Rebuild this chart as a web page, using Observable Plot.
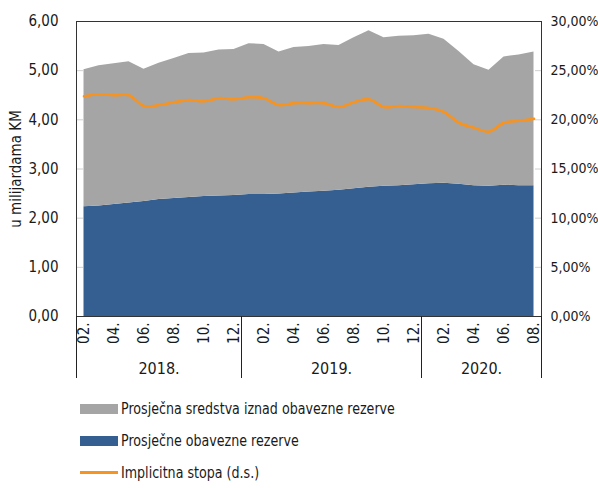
<!DOCTYPE html>
<html>
<head>
<meta charset="utf-8">
<script src="https://cdn.jsdelivr.net/npm/d3@7"></script>
<script src="https://cdn.jsdelivr.net/npm/@observablehq/plot@0.6"></script>
<style>
  body { margin: 0; background: #fff; color: #1a1a1a; }
  #wrap { position: relative; width: 598px; height: 488px; }
  #chart { position: absolute; left: 0; top: 0; }
  .leg { position: absolute; left: 80px; display: flex; align-items: center; white-space: nowrap; font-size: 16px; }
  .leg span { display: inline-block; transform: scaleX(0.88); transform-origin: left center; }
  .sw { width: 38px; height: 10px; margin-right: 3px; }
  .ln { width: 38px; height: 2.5px; margin-right: 3px; }
</style>
</head>
<body>
<div id="wrap">
  <div id="chart"></div>
  <div class="leg" style="top:399px"><div class="sw" style="background:#a5a5a5"></div><span>Prosječna sredstva iznad obavezne rezerve</span></div>
  <div class="leg" style="top:431px"><div class="sw" style="background:#365f91"></div><span>Prosječne obavezne rezerve</span></div>
  <div class="leg" style="top:463px"><div class="ln" style="background:#f7931e"></div><span>Implicitna stopa (d.s.)</span></div>
</div>
<script>
const periods = [
  "2018-02","2018-03","2018-04","2018-05","2018-06","2018-07","2018-08","2018-09","2018-10","2018-11","2018-12",
  "2019-01","2019-02","2019-03","2019-04","2019-05","2019-06","2019-07","2019-08","2019-09","2019-10","2019-11","2019-12",
  "2020-01","2020-02","2020-03","2020-04","2020-05","2020-06","2020-07","2020-08"
];
// Prosječne obavezne rezerve (mlrd KM)
const required = [2.23,2.25,2.28,2.31,2.34,2.38,2.40,2.42,2.44,2.45,2.46,
  2.48,2.48,2.49,2.51,2.53,2.55,2.57,2.60,2.63,2.65,2.66,2.68,
  2.70,2.71,2.69,2.66,2.65,2.67,2.66,2.66];
// Prosječna sredstva iznad obavezne rezerve (mlrd KM)
const excess = [2.79,2.85,2.86,2.87,2.69,2.77,2.85,2.93,2.92,2.97,2.97,
  3.07,3.05,2.89,2.96,2.96,2.98,2.94,3.07,3.18,3.02,3.04,3.03,
  3.04,2.93,2.70,2.46,2.36,2.61,2.66,2.72];
// Implicitna stopa (%), desna skala
const rate = [22.4,22.6,22.5,22.5,21.4,21.5,21.8,22.0,21.9,22.2,22.1,
  22.3,22.2,21.5,21.7,21.7,21.7,21.3,21.8,22.1,21.3,21.4,21.3,
  21.2,20.8,19.7,19.2,18.8,19.7,19.9,20.1];
const years = ["2018.","2019.","2020."];
const leftTicks = [0,1,2,3,4,5,6];
const rightFactor = 5; // 6,00 on left = 30,00% on right

// pick a narrow installed font
function pickFont() {
  const c = document.createElement("canvas").getContext("2d");
  const s = "Prosječna sredstva iznad obavezne rezerve 0123456789";
  const cands = ["Liberation Sans Narrow", "DejaVu Sans Condensed", "Roboto Condensed", "Open Sans Condensed", "Noto Sans Condensed"];
  for (const f of cands) {
    let ok = true;
    for (const fb of ["monospace", "serif"]) {
      c.font = `16px ${fb}`; const w0 = c.measureText(s).width;
      c.font = `16px "${f}", ${fb}`; const w1 = c.measureText(s).width;
      if (Math.abs(w0 - w1) < 0.5) ok = false;
    }
    if (ok) return `"${f}"`;
  }
  return '"Liberation Sans"';
}
const FONT = pickFont() + ", sans-serif";
document.body.style.fontFamily = FONT;

const idx = periods.map((_, i) => i);
const areaData = [];
idx.forEach(i => areaData.push({i, s: "req", v: required[i]}));
idx.forEach(i => areaData.push({i, s: "exc", v: excess[i]}));
const lineData = idx.map(i => ({i, y: rate[i] / rightFactor}));

const yearIdx = years.map(y => idx.filter(i => periods[i].startsWith(y.slice(0,4))));
const yearCenters = yearIdx.map(a => (a[0] + a[a.length-1]) / 2);
const boundaries = [-0.5, ...yearIdx.map(a => a[a.length-1] + 0.5)];
const monthTicks = idx.filter(i => i % 2 === 0);

const fmt = d => d.toFixed(2).replace(".", ",");
const none = () => "";

const chart = Plot.plot({
  width: 598,
  height: 390,
  marginLeft: 76,
  marginRight: 57,
  marginTop: 21,
  marginBottom: 74,
  style: {fontFamily: FONT, fontSize: "15px", color: "#1a1a1a", background: "#fff"},
  x: {domain: [-0.5, periods.length - 0.5]},
  y: {domain: [0, 6]},
  color: {domain: ["req", "exc"], range: ["#365f91", "#a5a5a5"]},
  marks: [
    Plot.areaY(areaData, {x: "i", y: "v", fill: "s", z: "s", order: ["req", "exc"]}),
    Plot.axisY({anchor: "left", ticks: leftTicks, tickSize: -7, stroke: "#d0d0d0", tickFormat: none, label: null}),
    Plot.axisY({anchor: "right", ticks: leftTicks, tickSize: -7, stroke: "#d0d0d0", tickFormat: none, label: null}),
    Plot.axisY({anchor: "left", ticks: leftTicks, tickSize: 0, tickPadding: 18, tickFormat: fmt, fontSize: 15,
      label: "u milijardama KM", labelAnchor: "center", labelArrow: "none", labelOffset: 66}),
    Plot.axisY({anchor: "right", ticks: leftTicks, tickSize: 0, tickPadding: 9, fontSize: 14,
      tickFormat: d => fmt(d * rightFactor) + "%", label: null}),
    Plot.lineY(lineData, {x: "i", y: "y", stroke: "#f7931e", strokeWidth: 2.6, curve: "catmull-rom"}),
    Plot.frame({stroke: "#333", strokeWidth: 1}),
    Plot.axisX({ticks: monthTicks, tickFormat: i => periods[i].slice(5) + ".", tickRotate: -90, tickSize: 0, tickPadding: 6, fontSize: 15, label: null}),
    Plot.axisX({ticks: yearCenters, tickFormat: (d, k) => years[k], tickSize: 0, tickPadding: 46, fontSize: 16, label: null}),
    Plot.axisX({ticks: boundaries, tickFormat: none, tickSize: 62, stroke: "#222", label: null})
  ]
});
document.getElementById("chart").appendChild(chart);
</script>
</body>
</html>
